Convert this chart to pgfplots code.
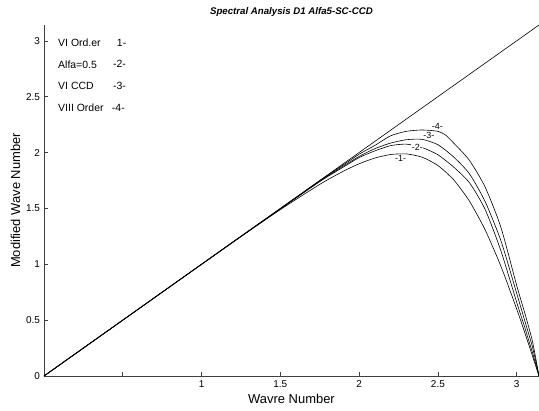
\documentclass[border=0pt]{standalone}
\usepackage{pgfplots}
\usepackage{pgfplotstable}
\pgfplotsset{compat=1.18}
\usepackage{fontspec}
\setmainfont{Liberation Sans}

\pgfplotstableread{
x y
0 0
0.5 0.5
1.0 0.9995
1.25 1.2474
1.5 1.4892
1.75 1.7150
1.9 1.8330
2.0 1.8994
2.1 1.9508
2.2 1.9826
2.3 1.9878
2.4 1.9581
2.5 1.884
2.6 1.756
2.7 1.5655
2.8 1.3068
2.9 0.9819
3.0 0.600
3.05 0.3933
3.1 0.180
3.1416 0
}\curveA

\pgfplotstableread{
x y
0 0
0.5 0.5
1.0 1.0
1.25 1.249
1.5 1.495
1.75 1.74
1.9 1.87
2.0 1.955
2.1 2.015
2.2 2.062
2.3 2.075
2.4 2.045
2.5 1.98
2.6 1.87
2.7 1.73
2.8 1.49
2.9 1.12
3.0 0.66
3.05 0.44
3.1 0.21
3.1416 0
}\curveB

\pgfplotstableread{
x y
0 0
0.5 0.5
1.0 1.0
1.25 1.25
1.5 1.497
1.75 1.743
1.9 1.88
2.0 1.965
2.1 2.035
2.2 2.085
2.3 2.115
2.4 2.118
2.5 2.07
2.6 1.96
2.7 1.81
2.8 1.56
2.9 1.21
3.0 0.74
3.05 0.50
3.1 0.26
3.1416 0
}\curveC

\pgfplotstableread{
x y
0 0
0.5 0.5
1.0 1.0
1.25 1.25
1.5 1.499
1.75 1.748
1.9 1.89
2.0 1.985
2.1 2.064
2.2 2.15
2.3 2.19
2.4 2.202
2.5 2.19
2.55 2.155
2.6 2.085
2.7 1.93
2.8 1.69
2.9 1.33
3.0 0.81
3.05 0.57
3.1 0.31
3.1416 0
}\curveD

\pgfplotstableread{
x y
0 0
3.1416 3.1416
}\diag

\begin{document}
\begin{tikzpicture}
\useasboundingbox (-44bp,-35bp) rectangle (495bp,376bp);
\begin{axis}[
  at={(0,0)}, anchor=south west,
  scale only axis,
  width=495bp, height=351bp,
  xmin=0, xmax=3.14159, ymin=0, ymax=3.14159,
  axis x line=bottom, axis y line=left,
  axis line style={-, black!75, line width=0.7pt},
  tick align=inside,
  major tick length=4bp,
  tick style={black!75, line width=0.6pt},
  xtick={0,0.5,1,1.5,2,2.5,3},
  xticklabels={,,1,1.5,2,2.5,3},
  ytick={0,0.5,1,1.5,2,2.5,3},
  yticklabels={0,0.5,1,1.5,2,2.5,3},
  ticklabel style={font=\fontsize{10}{11}\selectfont},
  xticklabel style={yshift=-1bp},
  yticklabel style={xshift=-0.5bp},
  /pgf/number format/assume math mode=true,
  xlabel={Wavre Number},
  ylabel={Modified Wave Number},
  label style={font=\fontsize{13}{14}\selectfont},
  xlabel style={yshift=0bp},
  ylabel style={yshift=-1bp},
  title={\bfseries\itshape Spectral Analysis D1 Alfa5-SC-CCD},
  title style={font=\fontsize{9.7}{10}\selectfont, yshift=-1bp},
  clip=false,
  every axis plot/.append style={black, line width=0.6pt},
]
\addplot[smooth, tension=0.4] table {\diag};
\addplot[smooth, tension=0.4] table {\curveA};
\addplot[smooth, tension=0.4] table {\curveB};
\addplot[smooth, tension=0.4] table {\curveC};
\addplot[smooth, tension=0.4] table {\curveD};

\begin{scope}[every node/.style={font=\fontsize{9}{9}\selectfont, inner sep=0.5pt, fill=white}]
\node at (axis cs:2.264,1.949) {-1-};
\node at (axis cs:2.369,2.048) {-2-};
\node at (axis cs:2.443,2.150) {-3-};
\node at (axis cs:2.496,2.235) {-4-};
\end{scope}

\begin{scope}[every node/.style={font=\fontsize{10.5}{11}\selectfont, anchor=west, inner sep=0pt}]
\node at (axis cs:0.089,2.985) {VI Ord.er};
\node at (axis cs:0.462,2.985) {1-};
\node at (axis cs:0.089,2.79) {Alfa=0.5};
\node at (axis cs:0.437,2.79) {-2-};
\node at (axis cs:0.089,2.60) {VI CCD};
\node at (axis cs:0.437,2.60) {-3-};
\node at (axis cs:0.089,2.40) {VIII Order};
\node at (axis cs:0.43,2.40) {-4-};
\end{scope}
\end{axis}
\end{tikzpicture}
\end{document}
